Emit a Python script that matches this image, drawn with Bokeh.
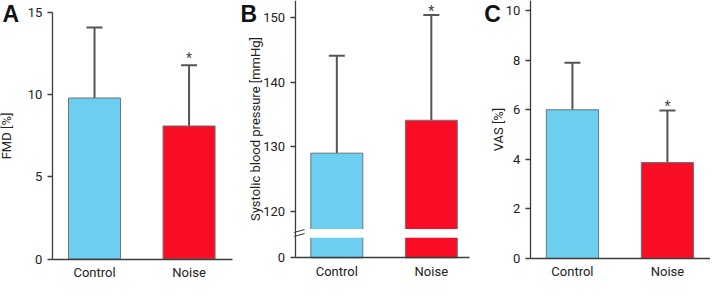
import numpy as np
from bokeh.plotting import figure
from bokeh.layouts import row
from bokeh.models import (Range1d, FixedTicker, Label, Whisker, TeeHead, BoxAnnotation,
                          ColumnDataSource, LinearAxis)
from bokeh.embed import file_html
from bokeh.resources import INLINE

categories = ["Control", "Noise"]
colors = ["#6dcff0", "#f90d24"]

fmd_mean = [9.8, 8.1]
fmd_sd = [4.3, 3.7]
fmd_ticks = [0, 5, 10, 15]

sbp_mean = [129.0, 134.1]
sbp_sd = [15.1, 16.3]
sbp_ticks = [120, 130, 140, 150]

vas_mean = [6.0, 3.87]
vas_sd = [1.9, 2.1]
vas_ticks = [0, 2, 4, 6, 8, 10]

FONT = "Roboto"
AX = "#3c3c3c"
ERR = "#555555"
TXT = "#222222"

# layout: reference pixel layout (726x299) squeezed into 710x283
W_TOTAL, H = 710, 283
SX, SY = W_TOTAL / 726.0, 0.93


def panel(mean, sd, letter, ylabel, ref_left, ref_right, ctrl_ref, noise_ref,
          yaxis_ref, xend_ref, ya, yb, yticks, base, letter_ref, star_off, ylab_standoff,
          ybound_top=None, overrides=None):
    fig_left = round(ref_left * SX)
    fig_w = round(ref_right * SX) - fig_left

    # reference px -> data (styling helpers)
    c0, c1 = ctrl_ref * SX - fig_left, noise_ref * SX - fig_left
    def xv(rx):
        return (rx * SX - fig_left - c0) / (c1 - c0)

    (va, ra), (vb, rb) = ya, yb
    def yv(ry):
        return va + (ry - ra) * (vb - va) / (rb - ra)

    x = np.arange(len(categories))
    p = figure(width=fig_w, height=H, output_backend="svg", toolbar_location=None,
               x_axis_type=None, y_axis_type=None,
               x_range=Range1d(xv(ref_left), xv(ref_right)),
               y_range=Range1d(yv(H / SY), yv(0)),
               min_border=0, min_border_left=0, min_border_right=0,
               min_border_top=0, min_border_bottom=0)
    p.outline_line_color = None
    p.grid.grid_line_color = None
    p.background_fill_color = None
    p.border_fill_color = None

    src = ColumnDataSource(dict(x=x, top=mean, color=colors,
                                upper=[m + s for m, s in zip(mean, sd)]))
    p.vbar(x="x", top="top", bottom=base, width=0.55, fill_color="color",
           line_color="#66767c", line_width=1, source=src)
    p.add_layout(Whisker(source=src, base="x", lower="top", upper="upper",
                         line_color=ERR, line_width=2,
                         upper_head=TeeHead(size=16, line_color=ERR, line_width=2),
                         lower_head=None))

    y0 = xv(yaxis_ref)
    yax = LinearAxis(fixed_location=y0, ticker=FixedTicker(ticks=yticks),
                     bounds=(base, ybound_top if ybound_top is not None else yv(0)))
    if overrides:
        yax.major_label_overrides = overrides
    yax.major_tick_in = 0
    yax.major_tick_out = 5
    yax.minor_tick_line_color = None
    yax.major_label_standoff = 5
    yax.axis_label = ylabel
    yax.axis_label_standoff = ylab_standoff

    xax = LinearAxis(fixed_location=base, ticker=FixedTicker(ticks=list(x)),
                     bounds=(y0, xv(xend_ref)))
    xax.major_label_overrides = {int(i): c for i, c in zip(x, categories)}
    xax.major_tick_line_color = None
    xax.minor_tick_line_color = None
    xax.major_label_standoff = 0

    for ax in (xax, yax):
        ax.axis_line_color = AX
        ax.axis_line_width = 1.3
        ax.major_label_text_font = FONT
        ax.major_label_text_font_size = "13px"
        ax.major_label_text_color = TXT
        ax.axis_label_text_font = FONT
        ax.axis_label_text_font_size = "13px"
        ax.axis_label_text_font_style = "normal"
        ax.axis_label_text_color = TXT
    yax.major_tick_line_color = AX
    yax.major_tick_line_width = 1.3
    p.add_layout(yax, "left")
    p.add_layout(xax, "below")

    # asterisk above the noise error bar
    p.add_layout(Label(x=1, y=mean[1] + sd[1], text="*", text_align="center",
                       text_baseline="bottom", y_offset=star_off, text_font=FONT,
                       text_font_size="14px", text_color="#444444"))
    # panel letter
    p.add_layout(Label(x=xv(letter_ref), y=yv(0), text=letter,
                       text_baseline="top", text_align="left",
                       text_font="Liberation Sans", text_font_style="bold",
                       text_font_size="23px", text_color="#111111"))
    return p, xv, yv


pA, _, _ = panel(fmd_mean, fmd_sd, "A", "FMD [%]", 0, 244, 96, 192.5, 53, 237,
                 (15, 13), (0, 278), fmd_ticks, 0, 2, -1, 11, ybound_top=15)

BASE = 112.8  # where the broken axis shows "0"
pB, xvB, yvB = panel(sbp_mean, sbp_sd, "B", "Systolic blood pressure [mmHg]", 244, 486,
                     343.8, 440.7, 301, 480, (150, 18.3), (120, 226.7),
                     [BASE] + sbp_ticks, BASE, 245, -4, -2, overrides={BASE: "0"})
# axis break: white gap through the bars and two slash marks on the axis
pB.add_layout(BoxAnnotation(bottom=yvB(255), top=yvB(245.7), left=xvB(302.5),
                            right=xvB(486), fill_color="white", fill_alpha=1.0,
                            line_color=None, level="overlay"))
pB.add_layout(Label(x=xvB(300.5), y=yvB(250), text="\\\\", angle=np.pi / 2,
                    text_align="center", text_baseline="middle", x_offset=4,
                    text_font="DejaVu Sans", text_font_size="12px", text_color=AX,
                    level="overlay"))

pC, _, _ = panel(vas_mean, vas_sd, "C", "VAS [%]", 486, 726, 585, 682, 542, 726,
                 (10, 11), (0, 277.3), vas_ticks, 0, 495, -3, -3)

layout = row(pA, pB, pC, spacing=0)
open("out.html", "w").write(file_html(layout, INLINE))
